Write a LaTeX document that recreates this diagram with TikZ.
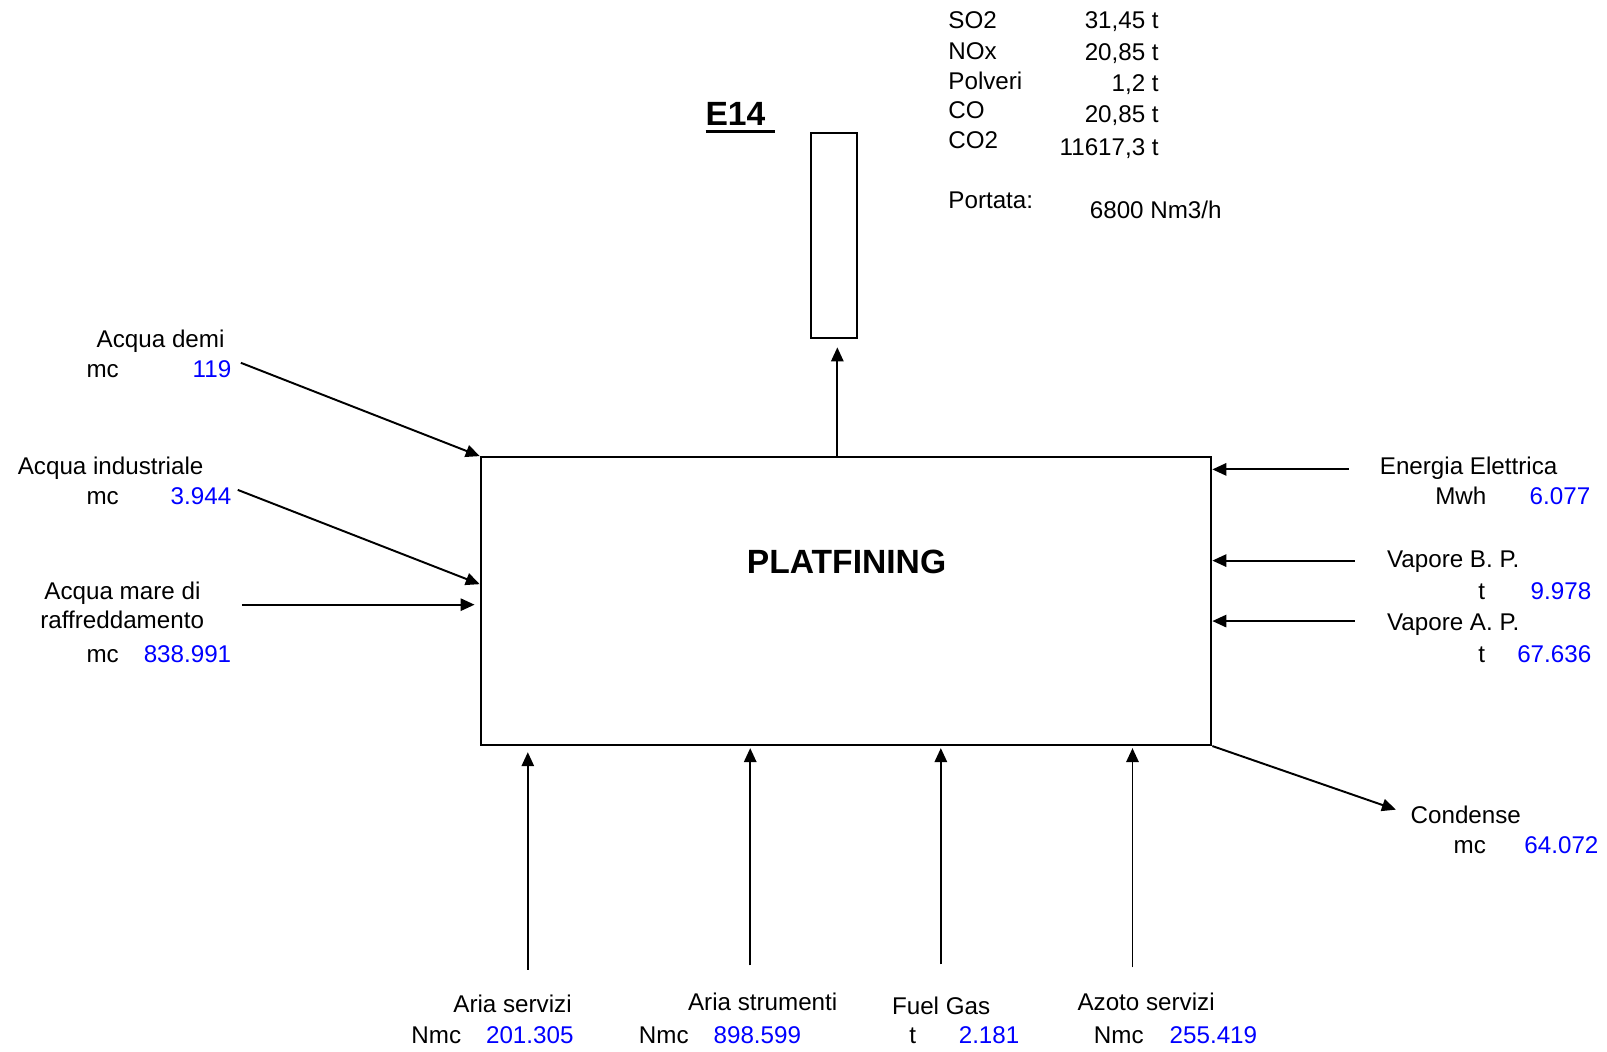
\documentclass[tikz,border=0pt]{standalone}
\usepackage{fontspec}
\setmainfont{Liberation Sans}
\usetikzlibrary{arrows.meta}
\definecolor{numblue}{RGB}{0,0,255}
\newcommand\ulbox[1]{\setbox0\hbox{#1}\rlap{\vrule height -2.2pt depth 3.7pt width \wd0}\box0}
\begin{document}
\begin{tikzpicture}[x=0.5pt,y=-0.5pt,
  lbl/.style={inner sep=0pt, yshift=-1.8pt, font=\fontsize{11.8}{14}\selectfont},
  num/.style={lbl, text=numblue},
  lw/.style={lbl, anchor=mid west},
  le/.style={num, anchor=mid east},
  ve/.style={lbl, anchor=mid east},
  bold/.style={inner sep=0pt, font=\fontsize{16.4}{20}\selectfont\bfseries},
  arr/.style={line width=0.95pt, -{Triangle[length=6.8pt,width=6pt]}},
  boxst/.style={draw, line width=0.95pt, inner sep=0pt}]
\useasboundingbox (0,0) rectangle (1568,1026);
\fill[white] (0,0) rectangle (1568,1026);

% main box and stack
\node[boxst, minimum width=356.5pt, minimum height=140.5pt] (box) at (825.5,586.5) {};
\node[bold, anchor=mid] (title) at (826,554) {PLATFINING};
\node[boxst, minimum width=22.5pt, minimum height=100pt] (stack) at (813.5,230) {};
\node[bold, anchor=base west] (e14) at (688,122) {\ulbox{E14\ }};

% emissions table
\node[lw] (so2) at (925,19) {SO2};
\node[ve] (so2v) at (1131,19) {31,45 t};
\node[lw] (nox) at (925,49) {NOx};
\node[ve] (noxv) at (1131,50) {20,85 t};
\node[lw] (pol) at (925,78) {Polveri};
\node[ve] (polv) at (1131,80) {1,2 t};
\node[lw] (co) at (925,107) {CO};
\node[ve] (cov) at (1131,111) {20,85 t};
\node[lw] (co2) at (925,136) {CO2};
\node[ve] (co2v) at (1131,143) {11617,3 t};
\node[lw] (port) at (925,195) {Portata:};
\node[lw] (portv) at (1063,204) {6800 Nm3/h};

% left labels
\node[lw] (t1) at (94,330) {Acqua demi};
\node[lw] (u1) at (84,359) {mc};
\node[le] (n1) at (226,359) {119};
\node[lw] (t2) at (17,454) {Acqua industriale};
\node[lw] (u2) at (84,483) {mc};
\node[le] (n2) at (226,483) {3.944};
\node[lw] (t3) at (43,576) {Acqua mare di};
\node[lw] (t3b) at (39,604) {raffreddamento};
\node[lw] (u3) at (84,638) {mc};
\node[le] (n3) at (226,638) {838.991};

% right labels
\node[lw] (t4) at (1346,454) {Energia Elettrica};
\node[lw] (u4) at (1400,483) {Mwh};
\node[le] (n4) at (1552,483) {6.077};
\node[lw] (t5) at (1353,545) {Vapore B. P.};
\node[lw] (u5) at (1442,576) {t};
\node[le] (n5) at (1553,576) {9.978};
\node[lw] (t6) at (1353,606) {Vapore A. P.};
\node[lw] (u6) at (1442,638) {t};
\node[le] (n6) at (1553,638) {67.636};
\node[lw] (t7) at (1376,795) {Condense};
\node[lw] (u7) at (1418,824) {mc};
\node[le] (n7) at (1560,824) {64.072};

% bottom labels
\node[lw] (t8) at (442,979) {Aria servizi};
\node[lw] (u8) at (401,1009) {Nmc};
\node[le] (n8) at (560,1009) {201.305};
\node[lw] (t9) at (671,977) {Aria strumenti};
\node[lw] (u9) at (623,1009) {Nmc};
\node[le] (n9) at (782,1009) {898.599};
\node[lw] (t10) at (870,981) {Fuel Gas};
\node[lw] (u10) at (887,1009) {t};
\node[le] (n10) at (995,1009) {2.181};
\node[lw] (t11) at (1051,977) {Azoto servizi};
\node[lw] (u11) at (1067,1009) {Nmc};
\node[le] (n11) at (1227,1009) {255.419};

% free ends of connectors
\coordinate (stk) at (817,0);
\coordinate (cdemi) at (235,354);
\coordinate (cind) at (232,478);
\coordinate (cmare) at (236,590);
\coordinate (cee) at (1316,458);
\coordinate (cvbp) at (1322,547);
\coordinate (cvap) at (1322,606);
\coordinate (ccond) at (1362,790);
\coordinate (cas) at (515,946);
\coordinate (cast) at (732,942);
\coordinate (cfg) at (918,941);
\coordinate (caz) at (1105,944);

% connectors
\draw[arr, shorten >=4pt] (box.north -| stk) -- (stack.south -| stk);
\draw[arr] (cdemi) -- (box.north west);
\draw[arr] (cind) -- ([yshift=8.25pt]box.west);
\draw[arr, shorten >=2.5pt] (cmare) -- (box.west |- cmare);
\draw[arr] (cee) -- (box.east |- cee);
\draw[arr] (cvbp) -- (box.east |- cvbp);
\draw[arr] (cvap) -- (box.east |- cvap);
\draw[arr] (box.south east) -- (ccond);
\draw[arr, shorten >=3pt] (cas) -- (box.south -| cas);
\draw[arr, shorten >=1pt] (cast) -- (box.south -| cast);
\draw[arr, shorten >=1pt] (cfg) -- (box.south -| cfg);
\draw[arr, shorten >=1pt] (caz) -- (box.south -| caz);
\end{tikzpicture}
\end{document}
